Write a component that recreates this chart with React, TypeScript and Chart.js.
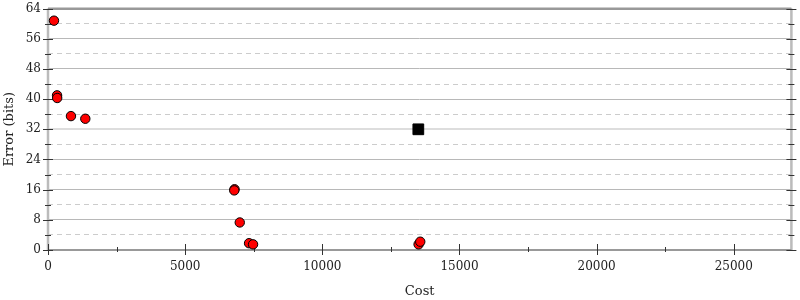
import React, { useEffect, useRef } from "react";
import { Chart, registerables } from "chart.js";

Chart.register(...registerables);

// Red candidates: cost vs error
const candidateCost = [218, 330, 335, 837, 1360, 6800, 6790, 6990, 7330, 7475, 13510, 13570];
const candidateError = [60.8, 41.0, 40.3, 35.5, 34.8, 16.1, 15.8, 7.3, 1.8, 1.5, 1.5, 2.2];

// Black target
const targetCost = [13500];
const targetError = [32];

const xTickValues = [0, 5000, 10000, 15000, 20000, 25000];
const yTickValues = [0, 4, 8, 12, 16, 20, 24, 28, 32, 36, 40, 44, 48, 52, 56, 60, 64];
const xMax = 27100;
const yMax = 64;
const xTitle = "Cost";
const yTitle = "Error (bits)";

const FONT = "'DejaVu Serif', serif";

const axisDeco = {
  id: "axisDeco",
  beforeDatasetsDraw(chart: any) {
    const { ctx, chartArea: a, scales } = chart;
    const xs = scales.x;
    const ys = scales.y;
    ctx.save();
    // left / right axis lines
    ctx.strokeStyle = "#bbbbbb";
    ctx.lineWidth = 2.5;
    ctx.beginPath();
    ctx.moveTo(a.left, a.top);
    ctx.lineTo(a.left, a.bottom);
    ctx.moveTo(a.right, a.top);
    ctx.lineTo(a.right, a.bottom);
    ctx.stroke();
    // bottom / top lines
    ctx.strokeStyle = "#999999";
    ctx.lineWidth = 2;
    ctx.beginPath();
    ctx.moveTo(a.left, a.bottom);
    ctx.lineTo(a.right, a.bottom);
    ctx.moveTo(a.left, a.top);
    ctx.lineTo(a.right, a.top);
    ctx.stroke();
    // ticks
    ctx.strokeStyle = "#333333";
    ctx.lineWidth = 1;
    ctx.beginPath();
    for (let v = 0; v <= yMax; v += 4) {
      const y = Math.round(ys.getPixelForValue(v)) + 0.5;
      const len = v % 8 === 0 ? 5 : 3;
      ctx.moveTo(a.left - len, y);
      ctx.lineTo(a.left + len, y);
      ctx.moveTo(a.right - len, y);
      ctx.lineTo(a.right + len, y);
    }
    for (let v = 0; v <= xMax; v += 2500) {
      const x = Math.round(xs.getPixelForValue(v)) + 0.5;
      if (v % 5000 === 0) {
        ctx.moveTo(x, a.bottom - 6);
        ctx.lineTo(x, a.bottom + 5);
      } else {
        ctx.moveTo(x, a.bottom - 3);
        ctx.lineTo(x, a.bottom + 2);
      }
    }
    ctx.stroke();
    ctx.restore();
  },
};

export default function App() {
  const ref = useRef<HTMLCanvasElement>(null);

  useEffect(() => {
    document.body.style.margin = "0";
    const canvas = ref.current;
    if (!canvas) return;
    const chart = new Chart(canvas, {
      type: "scatter",
      data: {
        datasets: [
          {
            label: "target",
            data: targetCost.map((c, i) => ({ x: c, y: targetError[i] })),
            pointStyle: "rect",
            pointRadius: 7.6,
            backgroundColor: "#000000",
            borderColor: "#000000",
            borderWidth: 1,
          },
          {
            label: "candidates",
            data: candidateCost.map((c, i) => ({ x: c, y: candidateError[i] })),
            pointStyle: "circle",
            pointRadius: 4.7,
            backgroundColor: "#ff0000",
            borderColor: "#000000",
            borderWidth: 1,
          },
        ],
      },
      options: {
        responsive: false,
        animation: false,
        events: [],
        layout: { padding: { top: 7, right: 7, left: 0, bottom: 0 } },
        plugins: {
          legend: { display: false },
          tooltip: { enabled: false },
        },
        scales: {
          x: {
            type: "linear",
            min: 0,
            max: xMax,
            grid: { display: false, drawTicks: false },
            border: { display: false },
            afterBuildTicks: (s: any) => {
              s.ticks = xTickValues.map((v) => ({ value: v }));
            },
            ticks: {
              autoSkip: false,
              maxRotation: 0,
              padding: 10,
              color: "#222222",
              font: { family: FONT, size: 12 },
              callback: (v: any) => String(v),
            },
            title: {
              display: true,
              text: xTitle,
              color: "#222222",
              font: { family: FONT, size: 13 },
              padding: { top: 0, bottom: 1 },
            },
            afterFit: (s: any) => {
              s.height = 50;
              s.paddingLeft = 0;
              s.paddingRight = 0;
            },
          },
          y: {
            type: "linear",
            min: 0,
            max: yMax,
            afterBuildTicks: (s: any) => {
              s.ticks = yTickValues.map((v) => ({ value: v }));
            },
            grid: {
              drawTicks: false,
              color: (c: any) => {
                const v = c.tick ? c.tick.value : -1;
                if (v === 0) return "rgba(0,0,0,0)";
                if (v === 64) return "#999999";
                if (v === 32) return "#dddddd";
                if (v % 8 === 0) return "#b8b8b8";
                return "#cccccc";
              },
              lineWidth: (c: any) => {
                const v = c.tick ? c.tick.value : -1;
                if (v === 32) return 2;
                if (v === 64) return 2;
                return 1;
              },
            },
            border: {
              display: false,
              dash: (c: any) => (c.tick && c.tick.value % 8 !== 0 ? [5, 4] : []),
            },
            ticks: {
              autoSkip: false,
              padding: 7,
              color: "#222222",
              font: { family: FONT, size: 12 },
              callback: (v: any) => (Number(v) % 8 === 0 ? String(v) : ""),
            },
            title: {
              display: true,
              text: yTitle,
              color: "#222222",
              font: { family: FONT, size: 13 },
              padding: { top: 2, bottom: 0 },
            },
            afterFit: (s: any) => {
              s.width = 48;
              s.paddingTop = 0;
              s.paddingBottom = 0;
            },
          },
        },
      },
      plugins: [axisDeco],
    } as any);
    return () => chart.destroy();
  }, []);

  return (
    <div style={{ width: 800, height: 300, background: "#ffffff" }}>
      <canvas ref={ref} width={800} height={300} />
    </div>
  );
}
